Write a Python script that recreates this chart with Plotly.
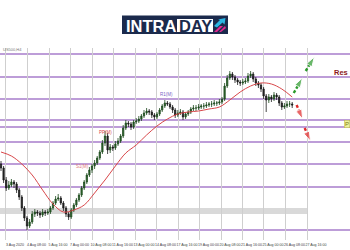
import plotly.graph_objects as go

# ---------------- data ----------------
candle_idx = list(range(113))

opens = [3172, 3164, 3140, 3124, 3130, 3136, 3132, 3120, 3106, 3084,
         3064, 3048, 3056, 3072, 3076, 3074, 3070, 3076, 3074, 3076,
         3084, 3094, 3102, 3104, 3094, 3084, 3072, 3066, 3080, 3090,
         3100, 3110, 3124, 3136, 3150, 3160, 3168, 3174, 3184, 3196,
         3214, 3228, 3200, 3206, 3204, 3212, 3218, 3228, 3244, 3254,
         3252, 3246, 3256, 3258, 3262, 3268, 3274, 3278, 3276, 3270,
         3266, 3272, 3280, 3288, 3294, 3292, 3286, 3280, 3270, 3274,
         3276, 3266, 3272, 3276, 3282, 3284, 3284, 3286, 3288, 3288,
         3290, 3292, 3292, 3294, 3294, 3296, 3302, 3328, 3344, 3352,
         3346, 3340, 3336, 3334, 3336, 3338, 3348, 3352, 3342, 3334,
         3330, 3322, 3308, 3300, 3306, 3302, 3310, 3306, 3294, 3286,
         3288, 3292, 3292]

highs = [3178, 3168, 3146, 3138, 3142, 3140, 3136, 3124, 3110, 3088,
         3068, 3062, 3078, 3082, 3080, 3078, 3082, 3080, 3082, 3088,
         3098, 3108, 3112, 3108, 3098, 3088, 3076, 3084, 3094, 3104,
         3114, 3128, 3140, 3154, 3166, 3172, 3180, 3188, 3200, 3220,
         3238, 3234, 3212, 3210, 3218, 3224, 3232, 3250, 3260, 3258,
         3256, 3260, 3264, 3268, 3272, 3280, 3284, 3282, 3280, 3274,
         3276, 3284, 3292, 3300, 3298, 3296, 3290, 3284, 3280, 3282,
         3280, 3276, 3280, 3286, 3290, 3290, 3292, 3292, 3294, 3296,
         3296, 3298, 3300, 3298, 3302, 3306, 3334, 3350, 3358, 3356,
         3350, 3344, 3340, 3342, 3344, 3354, 3358, 3356, 3346, 3338,
         3334, 3326, 3312, 3312, 3310, 3316, 3314, 3310, 3298, 3294,
         3298, 3298, 3296]

lows = [3158, 3134, 3118, 3120, 3126, 3124, 3114, 3100, 3078, 3058,
        3040, 3044, 3052, 3066, 3068, 3064, 3066, 3068, 3070, 3072,
        3080, 3090, 3098, 3090, 3078, 3066, 3060, 3062, 3076, 3086,
        3096, 3106, 3120, 3132, 3146, 3154, 3162, 3170, 3180, 3192,
        3208, 3192, 3194, 3198, 3200, 3208, 3214, 3224, 3240, 3246,
        3240, 3242, 3252, 3254, 3258, 3264, 3270, 3270, 3264, 3260,
        3262, 3268, 3276, 3284, 3288, 3282, 3274, 3264, 3266, 3270,
        3260, 3262, 3268, 3272, 3278, 3278, 3280, 3282, 3282, 3284,
        3286, 3286, 3288, 3288, 3290, 3292, 3298, 3324, 3340, 3340,
        3334, 3330, 3328, 3330, 3332, 3334, 3344, 3336, 3328, 3324,
        3316, 3302, 3276, 3294, 3296, 3298, 3300, 3288, 3280, 3282,
        3284, 3286, 3284]

closes = [3164, 3140, 3124, 3130, 3136, 3132, 3120, 3106, 3084, 3064,
          3048, 3056, 3072, 3076, 3074, 3070, 3076, 3074, 3076, 3084,
          3094, 3102, 3104, 3094, 3084, 3072, 3066, 3080, 3090, 3100,
          3110, 3124, 3136, 3150, 3160, 3168, 3174, 3184, 3196, 3214,
          3228, 3200, 3206, 3204, 3212, 3218, 3228, 3244, 3254, 3252,
          3246, 3256, 3258, 3262, 3268, 3274, 3278, 3276, 3270, 3266,
          3272, 3280, 3288, 3294, 3292, 3286, 3280, 3270, 3274, 3276,
          3266, 3272, 3276, 3282, 3284, 3284, 3286, 3288, 3288, 3290,
          3292, 3292, 3294, 3294, 3296, 3302, 3328, 3344, 3352, 3346,
          3340, 3336, 3334, 3336, 3338, 3348, 3352, 3342, 3334, 3330,
          3322, 3308, 3300, 3306, 3302, 3310, 3306, 3294, 3286, 3288,
          3292, 3292, 3290]

ma_idx = [0, 4, 8, 12, 16, 20, 24, 28, 32, 36, 40, 44, 48, 52, 56, 60,
          64, 68, 72, 76, 80, 84, 88, 92, 96, 100, 104, 108, 112]
ma_vals = [3196, 3188, 3172, 3150, 3120, 3092, 3076, 3080, 3090, 3114,
           3140, 3168, 3194, 3210, 3230, 3248, 3262, 3272, 3276, 3278,
           3282, 3286, 3300, 3316, 3328, 3334, 3332, 3322, 3306]

levels = [3392, 3346, 3302, 3260, 3246, 3216, 3172, 3126, 3040]
zone = [3072, 3084]

tick_pos = [1.92, 10.19, 18.46, 26.73, 35.0, 43.27, 51.54, 59.81, 68.08,
            76.35, 84.62, 92.88, 101.15, 109.42, 117.69]
tick_text = ["3 Aug 2020", "4 Aug 08:00", "5 Aug 16:00", "7 Aug 00:00",
             "10 Aug 08:00", "11 Aug 16:00", "13 Aug 00:00", "14 Aug 08:00",
             "17 Aug 16:00", "19 Aug 00:00", "20 Aug 08:00", "21 Aug 16:00",
             "25 Aug 00:00", "26 Aug 08:00", "27 Aug 16:00"]

bull_arrows = [([112.6, 115.9], [3314, 3344]), ([117.2, 120.5], [3358, 3386])]
bear_arrows = [([113.7, 116.0], [3290, 3262]), ([116.8, 119.0], [3244, 3218])]

pivot_labels = [(63.5, 3312, "R1(M)", "#7a63c4"),
                (40.0, 3236, "PP(M)", "#d9443f"),
                (31.5, 3168, "S1(M)", "#e07a7a")]

# ---------------- layout helpers ----------------
W, H = 350, 250
MT, MB = 48, 10
X_RANGE = [-0.385, 134.23]
Y_RANGE = [3020, 3404]


def px(x):
    return x / W


def py(y):
    return (H - MB - y) / (H - MT - MB)


fig = go.Figure()

fig.add_trace(go.Candlestick(
    x=candle_idx, open=opens, high=highs, low=lows, close=closes,
    increasing=dict(line=dict(color="#1d4a1d", width=0.8), fillcolor="#2f6a2f"),
    decreasing=dict(line=dict(color="#1a1a1a", width=0.8), fillcolor="#262626"),
    whiskerwidth=0, showlegend=False, hoverinfo="skip"))

fig.add_trace(go.Scatter(
    x=ma_idx, y=ma_vals, mode="lines",
    line=dict(color="#d8474a", width=1, shape="spline"),
    showlegend=False, hoverinfo="skip"))

for xs, ys in bull_arrows:
    fig.add_trace(go.Scatter(
        x=xs, y=ys, mode="lines+markers",
        line=dict(color="#2a9a2a", width=2.4, dash="3px,2px"),
        marker=dict(symbol="arrow", size=[0, 10], color="#2a9a2a",
                    angleref="previous"),
        showlegend=False, hoverinfo="skip"))
for xs, ys in bear_arrows:
    fig.add_trace(go.Scatter(
        x=xs, y=ys, mode="lines+markers",
        line=dict(color="#e02828", width=2.4, dash="3px,2px"),
        marker=dict(symbol="arrow", size=[0, 10], color="#e02828",
                    angleref="previous"),
        showlegend=False, hoverinfo="skip"))

shapes = []
# support zone band
shapes.append(dict(type="rect", xref="x", yref="y", x0=X_RANGE[0], x1=tick_pos[-1],
                   y0=zone[0], y1=zone[1], fillcolor="#d9d9d9", line=dict(width=0),
                   layer="below"))
for lv in levels:
    shapes.append(dict(type="line", xref="paper", yref="y", x0=0, x1=1, y0=lv, y1=lv,
                       line=dict(color="#a77ccb", width=1.4), layer="below"))

# logo
shapes.append(dict(type="rect", xref="paper", yref="paper", x0=px(122), x1=px(228),
                   y0=py(34), y1=py(15.5), fillcolor="#1b2a4c", line=dict(width=0)))
shapes.append(dict(type="rect", xref="paper", yref="paper", x0=px(177), x1=px(213),
                   y0=py(32), y1=py(19), fillcolor="#ffffff", line=dict(width=0)))


def poly(points, color):
    d = "M " + " L ".join(f"{px(a):.5f},{py(b):.5f}" for a, b in points) + " Z"
    return dict(type="path", xref="paper", yref="paper", path=d, fillcolor=color,
                line=dict(width=0))


shapes.append(poly([(214, 26), (220, 20), (218, 19.5), (225.5, 18), (224.5, 24.5),
                    (222.5, 22.5), (217, 27.5)], "#2bb5e3"))
shapes.append(poly([(214, 32), (220, 26), (223, 26), (217, 32)], "#e0268f"))
shapes.append(poly([(219, 32), (225, 26), (226, 28), (221, 32)], "#e0268f"))

annotations = [
    dict(x=px(151), y=py(25.5), xref="paper", yref="paper", text="<b>INTRA</b>",
         showarrow=False, xanchor="center", yanchor="middle",
         font=dict(family="Liberation Sans", size=16.5, color="#ffffff")),
    dict(x=px(195), y=py(25.5), xref="paper", yref="paper", text="<b>DAY</b>",
         showarrow=False, xanchor="center", yanchor="middle",
         font=dict(family="Liberation Sans", size=16.5, color="#1b2a4c")),
    dict(x=px(1), y=py(50), xref="paper", yref="paper", text="US500,H4",
         showarrow=False, xanchor="left", yanchor="middle",
         font=dict(family="Liberation Sans", size=4, color="#777777")),
    dict(x=px(349.5), y=3356, xref="paper", yref="y", text="<b>Res</b>",
         showarrow=False, xanchor="right", yanchor="middle",
         font=dict(family="Liberation Sans", size=7.5, color="#8b1a1a")),
    dict(x=px(349.5), y=3253, xref="paper", yref="y", text="P",
         showarrow=False, xanchor="right", yanchor="middle", bgcolor="#eef09a",
         bordercolor="#b8b84a", borderwidth=0.5, borderpad=0.5,
         font=dict(family="Liberation Sans", size=6, color="#7a7a10")),
]
for xi, yi, txt, col in pivot_labels:
    annotations.append(dict(x=xi, y=yi, xref="x", yref="y", text=txt, showarrow=False,
                            xanchor="center", yanchor="middle",
                            font=dict(family="Liberation Sans", size=4.5, color=col)))

fig.update_layout(
    width=W, height=H,
    margin=dict(l=0, r=0, t=MT, b=MB),
    paper_bgcolor="#ffffff", plot_bgcolor="#ffffff",
    shapes=shapes, annotations=annotations,
    showlegend=False,
    xaxis=dict(range=X_RANGE, tickmode="array", tickvals=tick_pos, ticktext=tick_text,
               showgrid=True, gridcolor="#cfcfcf", gridwidth=1, zeroline=False,
               showline=False, ticks="", rangeslider=dict(visible=False),
               tickangle=0,
               tickfont=dict(family="Liberation Sans", size=3.6, color="#444444"),
               ticklabelshift=9, ticklabelstandoff=1, fixedrange=True),
    yaxis=dict(range=Y_RANGE, showgrid=False, zeroline=False, showticklabels=False,
               showline=False, fixedrange=True),
)

fig.write_html("out.html", config={"displayModeBar": False})
